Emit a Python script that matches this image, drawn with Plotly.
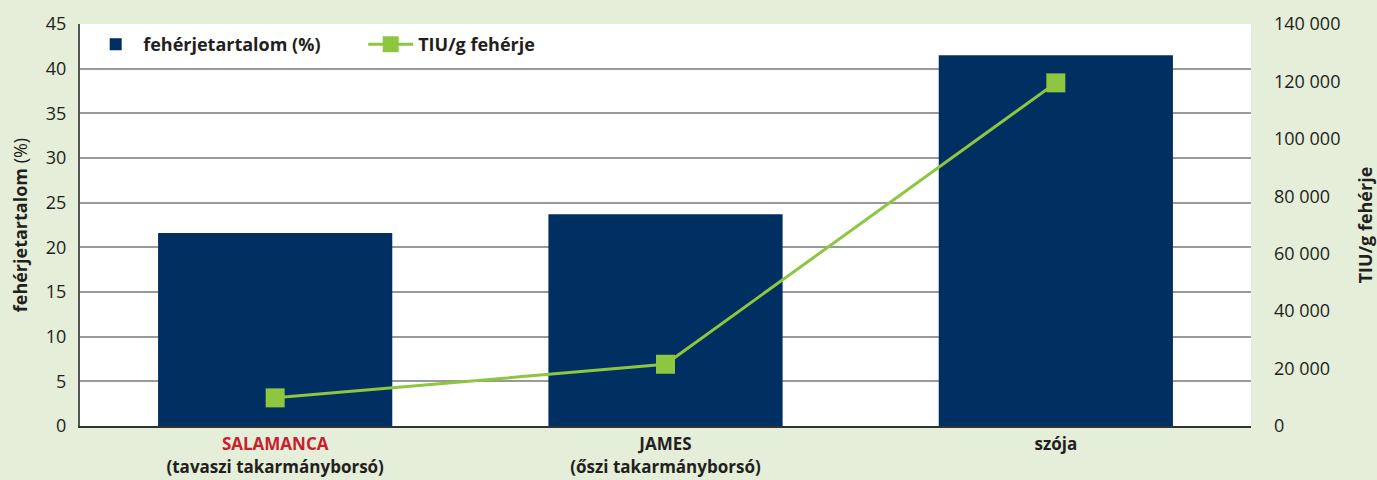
import plotly.graph_objects as go

categories = ["SALAMANCA", "JAMES", "szója"]
tick_labels = [
    '<span style="color:#c8202f">SALAMANCA</span><br>(tavaszi takarmányborsó)',
    'JAMES<br>(őszi takarmányborsó)',
    'szója',
]
protein_pct = [21.6, 23.7, 41.5]
tiu_per_g = [9800, 21500, 119500]

left_ticks = [0, 5, 10, 15, 20, 25, 30, 35, 40, 45]
right_ticks = [0, 20000, 40000, 60000, 80000, 100000, 120000, 140000]
right_ticktext = ["0", "20 000", "40 000", "60 000", "80 000", "100 000", "120 000", "140 000"]

BG = "#e4eed8"
NAVY = "#002f62"
GREEN = "#8dc63f"
FONT = "Open Sans"
TXT = "#231f20"

fig = go.Figure()
fig.add_trace(go.Bar(
    x=categories, y=protein_pct, name="fehérjetartalom (%)",
    marker=dict(color=NAVY, line=dict(width=0)), width=0.6,
))
fig.add_trace(go.Scatter(
    x=categories, y=tiu_per_g, name="TIU/g fehérje", yaxis="y2",
    mode="lines+markers",
    line=dict(color=GREEN, width=3),
    marker=dict(symbol="square", size=19, color=GREEN),
))

fig.update_layout(
    width=1377, height=480,
    paper_bgcolor=BG, plot_bgcolor="white",
    margin=dict(l=80, r=126, t=24, b=54),
    font=dict(family=FONT, color=TXT, size=16),
    showlegend=True,
    legend=dict(
        orientation="h", x=0.007, y=0.995, xanchor="left", yanchor="top",
        bgcolor="rgba(0,0,0,0)",
        font=dict(family=FONT, size=18, color=TXT, weight="bold"),
        itemwidth=45, entrywidth=215, traceorder="normal",
    ),
    bargap=0.4,
    xaxis=dict(
        tickmode="array", tickvals=categories, ticktext=tick_labels,
        tickfont=dict(family=FONT, size=17, color=TXT, weight="bold"),
        showline=True, linecolor="#333333", linewidth=2,
        showgrid=False, ticks="", automargin=False, ticklabelstandoff=2,
    ),
    yaxis=dict(
        range=[0, 45], tickvals=left_ticks,
        tickfont=dict(family=FONT, size=18, color=TXT),
        showline=True, linecolor="#555555", linewidth=2,
        showgrid=True, gridcolor="#999999", gridwidth=1.5,
        zeroline=False, ticks="", ticklabelstandoff=8,
        title=dict(text="<b>fehérjetartalom</b> (%)", standoff=14,
                   font=dict(family=FONT, size=18, color=TXT)),
        automargin=False,
    ),
    yaxis2=dict(
        overlaying="y", side="right", range=[0, 140000],
        tickvals=right_ticks, ticktext=right_ticktext,
        tickfont=dict(family=FONT, size=18, color=TXT),
        showgrid=False, zeroline=False, showline=False, ticks="",
        ticklabelstandoff=22,
        title=dict(text="TIU/g fehérje", standoff=22,
                   font=dict(family=FONT, size=18, color=TXT, weight="bold")),
        automargin=False,
    ),
)

fig.write_html("out.html")
